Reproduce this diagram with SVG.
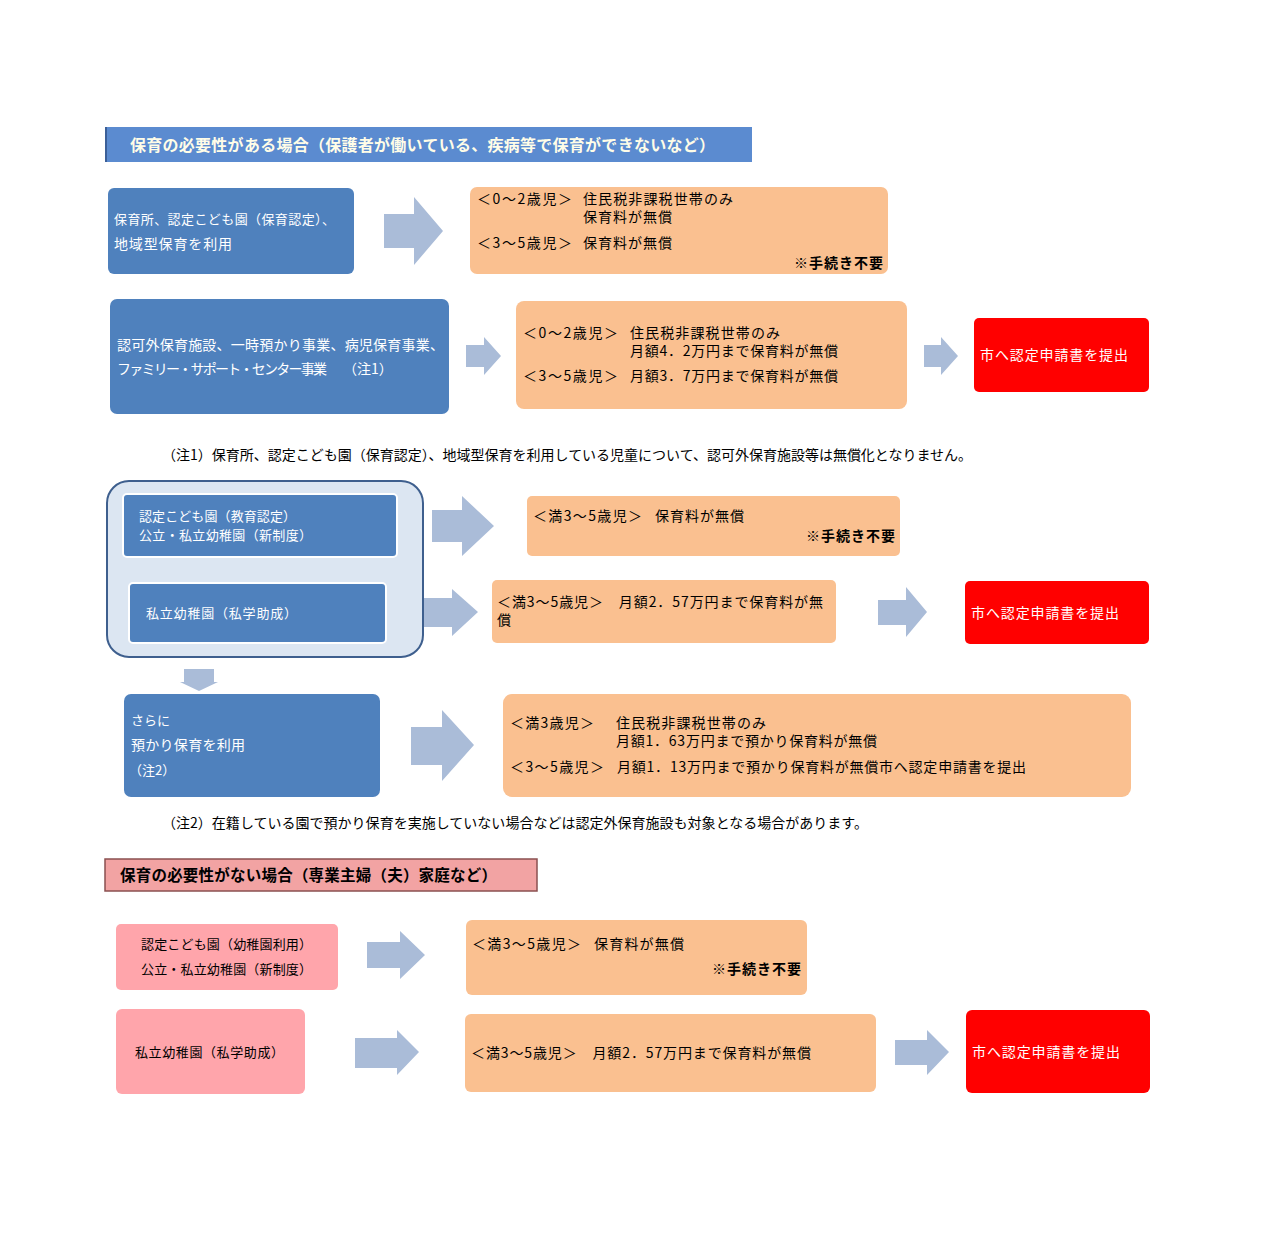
<svg xmlns="http://www.w3.org/2000/svg" width="1282" height="1241" viewBox="0 0 1282 1241">
<defs>
<style>
text{font-family:"Noto Sans CJK JP","Noto Sans CJK SC",sans-serif;font-size:14px;fill:#000}
.w{fill:#fff}
.b{font-weight:bold}
.s{font-size:13px}
.blue{fill:#4f81bd}
.org{fill:#fac090}
.red{fill:#ff0000}
.pink{fill:#ffa5ab}
.arr{fill:#aabcd8}
</style>
</defs>
<rect width="1282" height="1241" fill="#fff"/>

<g id="header1">
<rect x="105" y="127" width="647" height="35" fill="#5b8bd0"/>
<rect x="105" y="127" width="2" height="35" fill="#3b5f98"/>
<text x="130" y="151" class="b" style="font-size:16px;fill:#fffde8" textLength="585">保育の必要性がある場合（保護者が働いている、疾病等で保育ができないなど）</text>
</g>

<g id="connectors">
<path class="arr" d="M384,214H414V197L443,231L414,265V248H384Z"/>
<path class="arr" d="M466,345H484V337L501,356L484,375V367H466Z"/>
<path class="arr" d="M924,345H941V337L958,356L941,375V367H924Z"/>
<path class="arr" d="M432,510H462V496L494,526L462,556V542H432Z"/>
<path class="arr" d="M403,598H452V589L478,612L452,636V627H403Z"/>
<path class="arr" d="M878,600H906V587L927,612L906,637V625H878Z"/>
<path class="arr" d="M184,669H214V682H218L199,691L180,682H184Z"/>
<path class="arr" d="M411,727H442V710L474,745L442,781V765H411Z"/>
<path class="arr" d="M367,942H400V931L425,955L400,979V968H367Z"/>
<path class="arr" d="M355,1038H397V1030L419,1052L397,1075V1068H355Z"/>
<path class="arr" d="M895,1040H927V1030L949,1052L927,1075V1065H895Z"/>
</g>

<g id="n1">
<rect class="blue" x="108" y="188" width="246" height="86" rx="6"/>
<text class="w s" x="114" y="224" textLength="221">保育所、認定こども園（保育認定）、</text>
<text class="w" x="114" y="249" textLength="118">地域型保育を利用</text>
</g>
<g id="r1">
<rect class="org" x="470" y="187" width="418" height="87" rx="7"/>
<text x="477" y="204" textLength="95">＜0～2歳児＞</text>
<text x="583" y="204" textLength="150">住民税非課税世帯のみ</text>
<text x="583" y="222" textLength="89">保育料が無償</text>
<text x="477" y="248" textLength="95">＜3～5歳児＞</text>
<text x="583" y="248" textLength="89">保育料が無償</text>
<text x="794" y="268" class="b" textLength="89">※手続き不要</text>
</g>

<g id="n2">
<rect class="blue" x="110" y="299" width="339" height="115" rx="7"/>
<text class="w" x="117" y="350" textLength="327">認可外保育施設、一時預かり事業、病児保育事業、</text>
<text class="w" x="117" y="374" textLength="210">ファミリー・サポート・センター事業</text>
<text class="w" x="343" y="374">（注1）</text>
</g>
<g id="r2">
<rect class="org" x="516" y="301" width="391" height="108" rx="8"/>
<text x="523" y="338" textLength="95">＜0～2歳児＞</text>
<text x="630" y="338" textLength="150">住民税非課税世帯のみ</text>
<text x="630" y="356" textLength="208">月額4．2万円まで保育料が無償</text>
<text x="523" y="381" textLength="95">＜3～5歳児＞</text>
<text x="630" y="381" textLength="208">月額3．7万円まで保育料が無償</text>
</g>
<g id="s2">
<rect class="red" x="974" y="318" width="175" height="74" rx="5"/>
<text class="w" x="980" y="360" textLength="148">市へ認定申請書を提出</text>
</g>

<text id="note1" x="162" y="460" textLength="810">（注1）保育所、認定こども園（保育認定）、地域型保育を利用している児童について、認可外保育施設等は無償化となりません。</text>

<g id="grp">
<rect x="107" y="481" width="316" height="176" rx="22" fill="#dce6f2" stroke="#3e5f8e" stroke-width="2"/>
</g>
<g id="n3">
<rect class="blue" x="123" y="494" width="274" height="63" rx="4" stroke="#fff" stroke-width="2"/>
<text class="w s" x="139" y="521" textLength="157">認定こども園（教育認定）</text>
<text class="w s" x="139" y="540" textLength="173">公立・私立幼稚園（新制度）</text>
</g>
<g id="n4">
<rect class="blue" x="129" y="583" width="257" height="60" rx="4" stroke="#fff" stroke-width="2"/>
<text class="w s" x="146" y="618" textLength="151">私立幼稚園（私学助成）</text>
</g>
<g id="r3">
<rect class="org" x="527" y="496" width="373" height="60" rx="5"/>
<text x="533" y="521" textLength="109">＜満3～5歳児＞</text>
<text x="655" y="521" textLength="89">保育料が無償</text>
<text x="806" y="541" class="b" textLength="89">※手続き不要</text>
</g>
<g id="r4">
<rect class="org" x="492" y="580" width="344" height="63" rx="5"/>
<text x="497" y="607" textLength="326">＜満3～5歳児＞　月額2．57万円まで保育料が無</text>
<text x="497" y="625">償</text>
</g>
<g id="s4">
<rect class="red" x="965" y="581" width="184" height="63" rx="5"/>
<text class="w" x="971" y="618" textLength="148">市へ認定申請書を提出</text>
</g>

<g id="n5">
<rect class="blue" x="124" y="694" width="256" height="103" rx="7"/>
<text class="w s" x="131" y="725">さらに</text>
<text class="w" x="131" y="750" textLength="114">預かり保育を利用</text>
<text class="w s" x="129" y="775">（注2）</text>
</g>
<g id="r5">
<rect class="org" x="503" y="694" width="628" height="103" rx="9"/>
<text x="510" y="728" textLength="84">＜満3歳児＞</text>
<text x="616" y="728" textLength="150">住民税非課税世帯のみ</text>
<text x="616" y="746" textLength="261">月額1．63万円まで預かり保育料が無償</text>
<text x="510" y="772" textLength="94">＜3～5歳児＞</text>
<text x="617" y="772" textLength="409">月額1．13万円まで預かり保育料が無償市へ認定申請書を提出</text>
</g>

<text id="note2" x="162" y="828" textLength="706">（注2）在籍している園で預かり保育を実施していない場合などは認定外保育施設も対象となる場合があります。</text>

<g id="header2">
<rect x="105" y="859" width="432" height="32" fill="#f2a3a3" stroke="#8a5050" stroke-width="1.5"/>
<text x="120" y="881" class="b" style="font-size:15.5px" textLength="377">保育の必要性がない場合（専業主婦（夫）家庭など）</text>
</g>

<g id="n6">
<rect class="pink" x="116" y="924" width="222" height="66" rx="5"/>
<text class="s" x="141" y="949" textLength="171">認定こども園（幼稚園利用）</text>
<text class="s" x="141" y="974" textLength="171">公立・私立幼稚園（新制度）</text>
</g>
<g id="r6">
<rect class="org" x="466" y="920" width="341" height="75" rx="6"/>
<text x="472" y="949" textLength="109">＜満3～5歳児＞</text>
<text x="594" y="949" textLength="90">保育料が無償</text>
<text x="712" y="974" class="b" textLength="89">※手続き不要</text>
</g>
<g id="n7">
<rect class="pink" x="116" y="1009" width="189" height="85" rx="6"/>
<text class="s" x="135" y="1057" textLength="149">私立幼稚園（私学助成）</text>
</g>
<g id="r7">
<rect class="org" x="465" y="1014" width="411" height="78" rx="6"/>
<text x="471" y="1058" textLength="340">＜満3～5歳児＞　月額2．57万円まで保育料が無償</text>
</g>
<g id="s7">
<rect class="red" x="966" y="1010" width="184" height="83" rx="6"/>
<text class="w" x="972" y="1057" textLength="148">市へ認定申請書を提出</text>
</g>
</svg>
